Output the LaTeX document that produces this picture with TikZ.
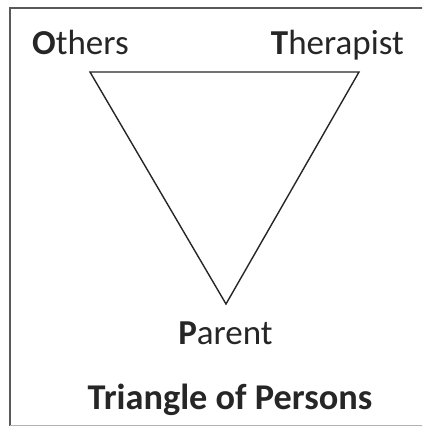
\documentclass[tikz,border=0pt]{standalone}
\usepackage{fontspec}
\setmainfont{Carlito}
\begin{document}
\begin{tikzpicture}[x=1pt,y=1pt,
  lbl/.style={inner sep=0pt,font=\fontsize{35}{42}\selectfont,text=black!85},
  tri/.style={line width=1.4pt,draw=black!85,line join=miter}]
\useasboundingbox (0,0) rectangle (422,427);
\fill[white] (0,0) rectangle (422,427);
% frame
\begin{scope}
\clip (0,0) rectangle (422,427);
\draw[line width=1.5pt,draw=black!65] (10,1) -- (10,419) -- (430,419);
\draw[line width=1pt,draw=black!30] (10,1.2) -- (430,1.2);
\end{scope}
% triangle
\coordinate (O) at (90,355);
\coordinate (T) at (359,355);
\coordinate (P) at (226,123);
\draw[tri] (O) -- (T) -- (P) -- cycle;
% labels
\node[lbl,anchor=base west] (others) at (32,372) {\textbf{O}thers};
\node[lbl,anchor=base east] (therapist) at (404,372) {\textbf{T}herapist};
\node[lbl,anchor=base] (parent) at (225.5,82) {\textbf{P}arent};
\node[lbl,anchor=base,font=\fontsize{36.3}{42}\selectfont\bfseries] (title) at (230,17) {Triangle of Persons};
\end{tikzpicture}
\end{document}
